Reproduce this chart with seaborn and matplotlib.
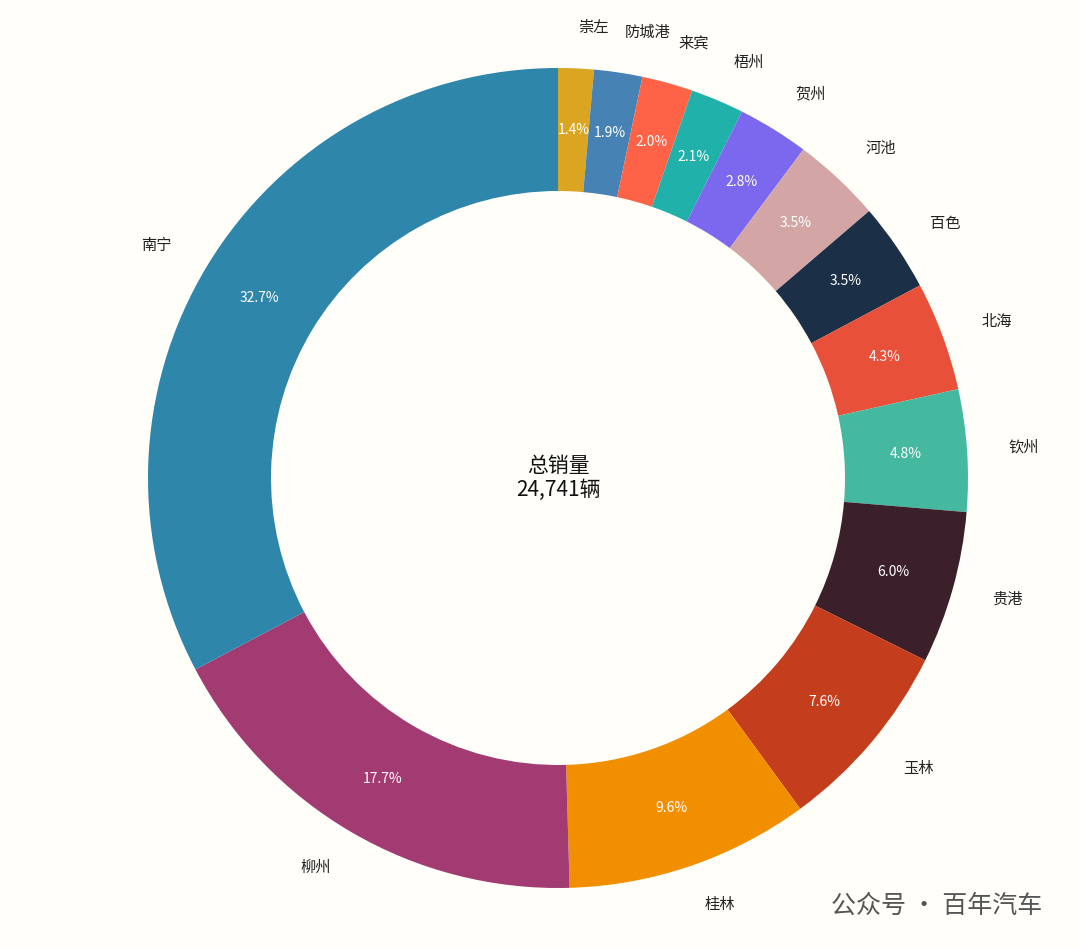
import matplotlib
matplotlib.use("Agg")
import matplotlib.pyplot as plt
import seaborn as sns

sns.set_theme(style="white")
plt.rcParams['font.family'] = ['Noto Sans CJK SC', 'DejaVu Sans']

cities = ["崇左", "防城港", "来宾", "梧州", "贺州", "河池", "百色", "北海", "钦州", "贵港", "玉林", "桂林", "柳州", "南宁"]
shares = [1.4, 1.9, 2.0, 2.1, 2.8, 3.5, 3.5, 4.3, 4.8, 6.0, 7.6, 9.6, 17.7, 32.7]
colors = ["#DAA520", "#4682B4", "#FF6347", "#20B2AA", "#7B68EE", "#D4A5A5", "#1B3047",
          "#E9503A", "#45B9A0", "#3B1F2B", "#C43E1E", "#F18F01", "#A23B72", "#2E86AB"]
total_text = "总销量\n24,741辆"

bg = "#FFFEF9"
fig = plt.figure(figsize=(10.8, 9.49), dpi=100, facecolor=bg)
ax = fig.add_axes([0, 0, 1, 1])
ax.set_facecolor(bg)
wedges, texts, autotexts = ax.pie(
    shares, labels=cities, colors=colors, startangle=90, counterclock=False,
    autopct="%.1f%%", pctdistance=0.85, labeldistance=1.1,
    wedgeprops=dict(width=0.3, edgecolor="none"),
    textprops=dict(fontsize=11, color="#222222"))
for t in autotexts:
    t.set_color("white")
    t.set_fontsize(10)
ax.text(0, 0, total_text, ha="center", va="center", fontsize=15, color="#111111", linespacing=1.1)
ax.set_xlim(-558/410, 522/410)
ax.set_ylim(-471/410, 478/410)
ax.set_aspect("auto")
ax.axis("off")
fig.text(0.965, 0.045, "公众号 · 百年汽车", ha="right", va="center", fontsize=18, color="#555555")
fig.savefig("out.png", dpi=100, facecolor=bg)
